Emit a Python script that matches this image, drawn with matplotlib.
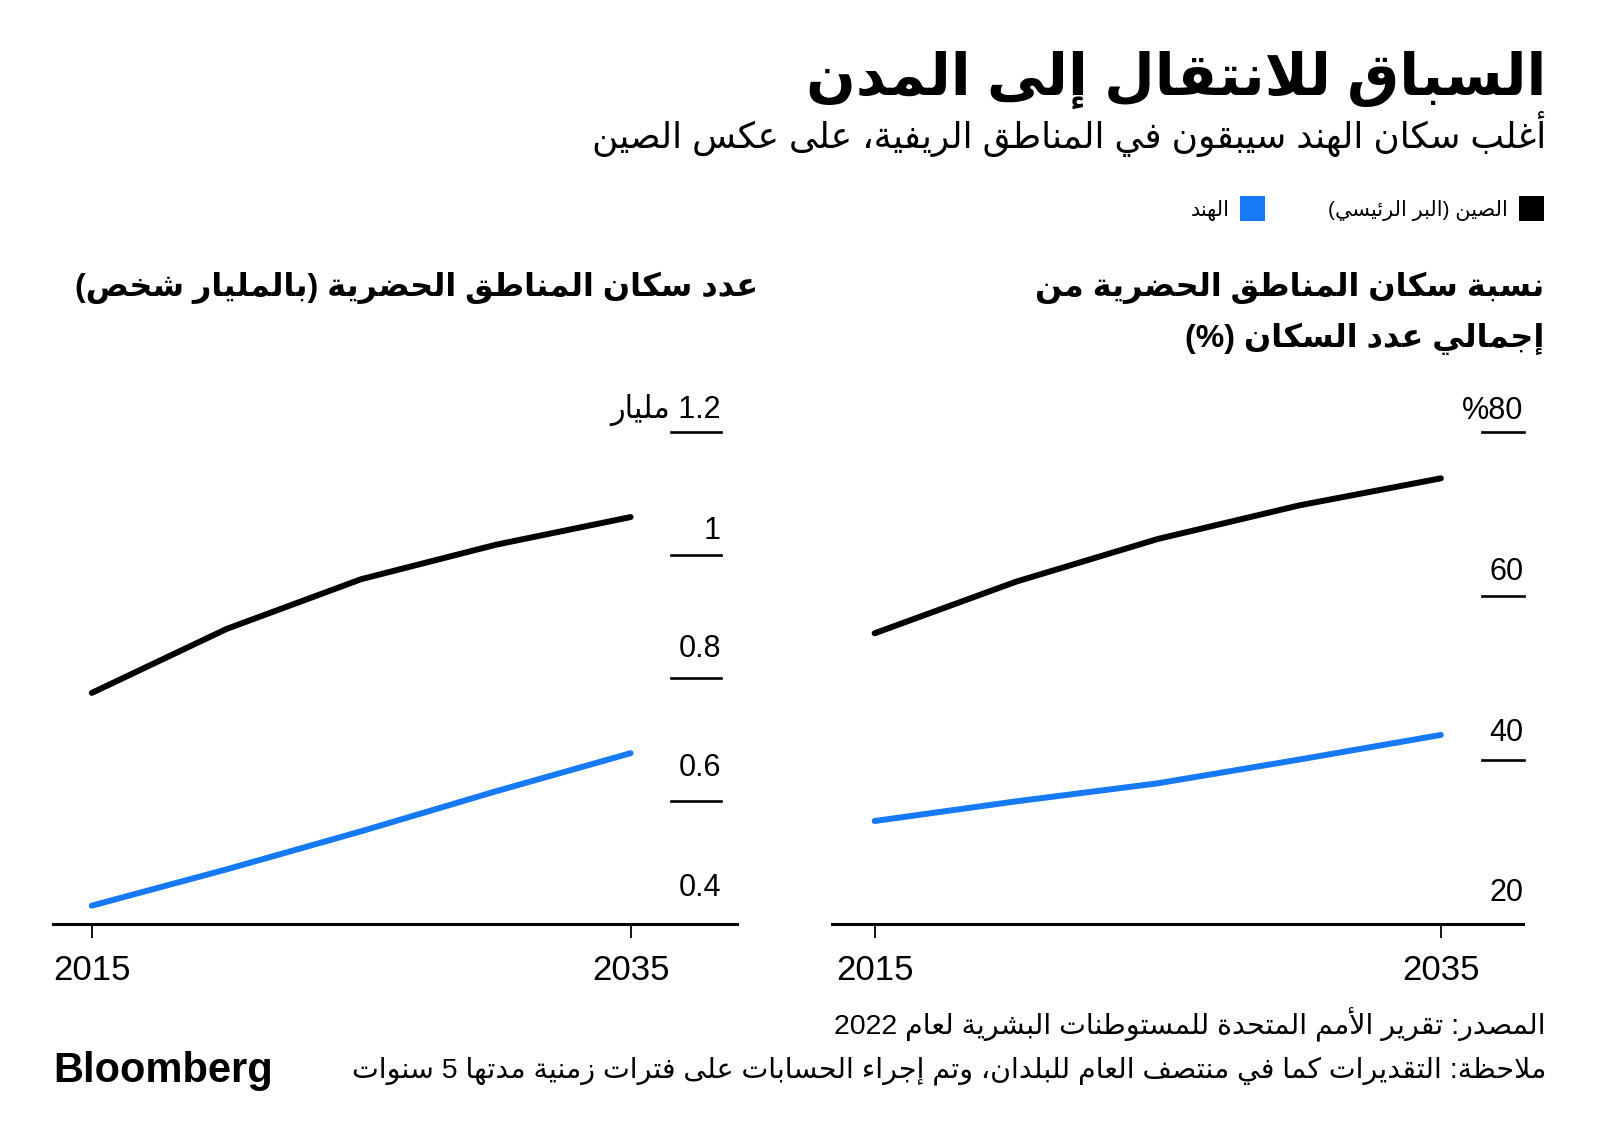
import re
import matplotlib
matplotlib.use('Agg')
import matplotlib.pyplot as plt
from matplotlib.patches import Rectangle

# data (UN World Cities Report 2022)
years = [2015, 2020, 2025, 2030, 2035]
china_share = [55.4, 61.7, 66.9, 71.0, 74.3]
india_share = [32.5, 34.9, 37.1, 40.0, 43.0]
china_pop = [0.775, 0.879, 0.960, 1.016, 1.061]
india_pop = [0.429, 0.488, 0.550, 0.615, 0.677]

share_ticks = [20, 40, 60, 80]
share_labels = ['20', '40', '60', '%80']
pop_ticks = [0.4, 0.6, 0.8, 1.0, 1.2]
pop_labels = ['0.4', '0.6', '0.8', '1', '1.2 مليار']

title = 'السباق للانتقال إلى المدن'
subtitle = 'أغلب سكان الهند سيبقون في المناطق الريفية، على عكس الصين'
legend_china = 'الصين (البر الرئيسي)'
legend_india = 'الهند'
left_title = 'عدد سكان المناطق الحضرية (بالمليار شخص)'
right_title = ['نسبة سكان المناطق الحضرية من', 'إجمالي عدد السكان (%)']
source = 'المصدر: تقرير الأمم المتحدة للمستوطنات البشرية لعام 2022'
note = 'ملاحظة: التقديرات كما في منتصف العام للبلدان، وتم إجراء الحسابات على فترات زمنية مدتها 5 سنوات'

BLACK = '#000000'
BLUE = '#1679F7'

# --- arabic shaping: matplotlib has no RTL / joining support ---
_codes = list(range(0x621, 0x63B)) + list(range(0x641, 0x64B))
_right_only = {0x622, 0x623, 0x624, 0x625, 0x627, 0x629, 0x62F, 0x630, 0x631, 0x632, 0x648, 0x649}
FORMS = {}
cp = 0xFE80
for c in _codes:
    n = 1 if c == 0x621 else (2 if c in _right_only else 4)
    FORMS[chr(c)] = [chr(cp + i) for i in range(n)]
    cp += n
LAM_ALEF = {'\u0622': 0xFEF5, '\u0623': 0xFEF7, '\u0625': 0xFEF9, '\u0627': 0xFEFB}


def shape(text):
    units = []
    i = 0
    while i < len(text):
        ch = text[i]
        if ch == '\u0644' and i + 1 < len(text) and text[i + 1] in LAM_ALEF:
            c = LAM_ALEF[text[i + 1]]
            units.append([chr(c), chr(c + 1)])
            i += 2
            continue
        units.append(FORMS.get(ch, ch))
        i += 1
    out = []
    for k, u in enumerate(units):
        if isinstance(u, str):
            out.append(u)
            continue
        prev = units[k - 1] if k > 0 else None
        nxt = units[k + 1] if k + 1 < len(units) else None
        jp = isinstance(prev, list) and len(prev) == 4
        jn = len(u) == 4 and isinstance(nxt, list) and len(nxt) > 1
        if len(u) == 1:
            out.append(u[0])
        elif len(u) == 2:
            out.append(u[1] if jp else u[0])
        else:
            out.append(u[[0, 2, 1, 3][jp * 2 + jn]])
    return ''.join(out)


def ar(text):
    if not any('\u0600' <= ch <= '\u06FF' for ch in text):
        return text
    s = shape(text)[::-1]
    s = s.translate(str.maketrans('()', ')('))
    return re.sub(r'[0-9A-Za-z.]+', lambda m: m.group(0)[::-1], s)


plt.rcParams['font.family'] = ['Liberation Sans', 'DejaVu Sans']

W, H = 1600, 1145
fig = plt.figure(figsize=(W / 100, H / 100), dpi=100)
fig.patch.set_facecolor('white')


def ftext(x, y, s, **kw):
    return fig.text(x / W, 1 - y / H, s, **kw)


def axes_px(x0, x1, ytop, ybot):
    return fig.add_axes([x0 / W, 1 - ybot / H, (x1 - x0) / W, (ybot - ytop) / H])


ftext(1546, 95, ar(title), ha='right', va='baseline', fontsize=42, fontweight='bold')
ftext(1546, 148, ar(subtitle), ha='right', va='baseline', fontsize=25.8)

# legend
fig.add_artist(Rectangle((1519 / W, 1 - 221 / H), 25 / W, 25 / H, transform=fig.transFigure,
                         facecolor=BLACK, edgecolor='none'))
fig.add_artist(Rectangle((1240 / W, 1 - 221 / H), 25 / W, 25 / H, transform=fig.transFigure,
                         facecolor=BLUE, edgecolor='none'))
ftext(1508, 216, ar(legend_china), ha='right', va='baseline', fontsize=15)
ftext(1230, 216, ar(legend_india), ha='right', va='baseline', fontsize=15)

# panel titles
ftext(758, 296, ar(left_title), ha='right', va='baseline', fontsize=23, fontweight='bold')
for k, line in enumerate(right_title):
    ftext(1544, 296 + 51 * k, ar(line), ha='right', va='baseline', fontsize=23, fontweight='bold')


def panel(ax, xlim, ylim, china, india, ticks, labels, offsets, tx0, tx1):
    ax.plot(years, china, color=BLACK, lw=4.3, solid_capstyle='round', solid_joinstyle='round')
    ax.plot(years, india, color=BLUE, lw=4.3, solid_capstyle='round', solid_joinstyle='round')
    ax.set_xlim(*xlim)
    ax.set_ylim(*ylim)
    for s in ['top', 'left', 'right']:
        ax.spines[s].set_visible(False)
    ax.spines['bottom'].set_linewidth(2.2)
    ax.set_yticks([])
    ax.set_xticks([2015, 2035])
    ax.set_xticklabels(['2015', '2035'], fontsize=25)
    ax.tick_params(axis='x', direction='out', length=10, width=1.3, pad=12)
    tr = ax.get_yaxis_transform()
    for v, lab, off in zip(ticks, labels, offsets):
        if v != ylim[0]:
            ax.plot([tx0, tx1], [v, v], transform=tr, color=BLACK, lw=1.9, clip_on=False)
        ax.annotate(ar(lab), xy=(tx1, v), xycoords=tr, xytext=(0, off), textcoords='offset points',
                    ha='right', va='bottom', fontsize=22, annotation_clip=False)
    ax.set_facecolor('none')


ax_l = axes_px(53, 737, 431.6, 923.5)
panel(ax_l, (2013.56, 2038.95), (0.4, 1.2), china_pop, india_pop, pop_ticks, pop_labels,
      [14.5, 12.3, 10.1, 6.4, 4.0], 0.9035, 0.9766)

ax_r = axes_px(831.6, 1523.5, 431.6, 923.5)
panel(ax_r, (2013.48, 2037.92), (20, 80), china_share, india_share, share_ticks, share_labels,
      [11.2, 8.3, 6.1, 3.9], 0.9394, 1.0)

# footer
ftext(1546, 1034, ar(source), ha='right', va='baseline', fontsize=20.5)
ftext(1546, 1077, ar(note), ha='right', va='baseline', fontsize=20.5)
ftext(53, 1082, 'Bloomberg', ha='left', va='baseline', fontsize=30, fontweight='bold',
      family='Liberation Sans')

fig.savefig('out.png', dpi=100, facecolor='white')
